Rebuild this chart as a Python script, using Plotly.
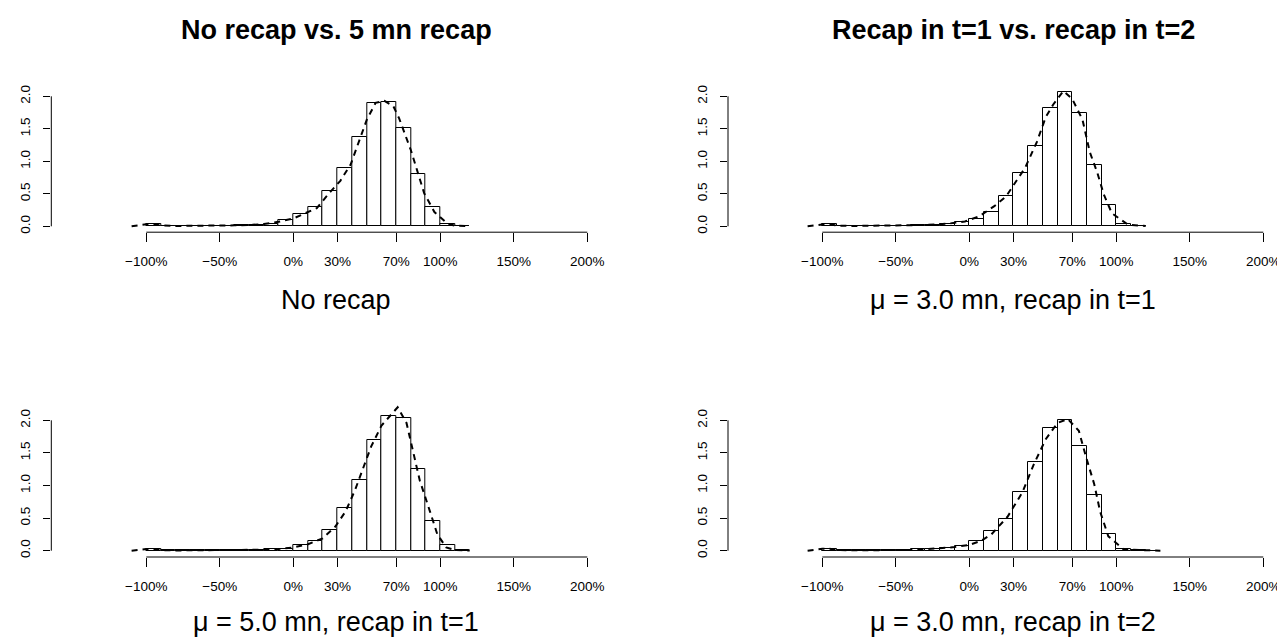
import plotly.graph_objects as go

W, H = 1285, 637

# ---------------- data ----------------
bin_left = [-1.0, -0.9, -0.8, -0.7, -0.6, -0.5, -0.4, -0.3, -0.2, -0.1, 0.0,
            0.1, 0.2, 0.3, 0.4, 0.5, 0.6, 0.7, 0.8, 0.9, 1.0, 1.1]
bin_left_long = [-1.0, -0.9, -0.8, -0.7, -0.6, -0.5, -0.4, -0.3, -0.2, -0.1, 0.0,
                 0.1, 0.2, 0.3, 0.4, 0.5, 0.6, 0.7, 0.8, 0.9, 1.0, 1.1, 1.2]
bin_width = 0.1

hist_no_recap = [0.04, 0.005, 0.005, 0.007, 0.01, 0.01, 0.015, 0.025, 0.04, 0.09, 0.19,
                 0.29, 0.54, 0.90, 1.38, 1.89, 1.91, 1.52, 0.80, 0.29, 0.035, 0.005]
hist_mu3_t1 = [0.03, 0.005, 0.005, 0.007, 0.01, 0.012, 0.015, 0.015, 0.03, 0.06, 0.12,
               0.225, 0.46, 0.815, 1.23, 1.82, 2.06, 1.75, 0.95, 0.33, 0.04, 0.005]
hist_mu5_t1 = [0.025, 0.005, 0.005, 0.005, 0.005, 0.005, 0.008, 0.01, 0.02, 0.03, 0.09,
               0.145, 0.32, 0.65, 1.08, 1.70, 2.07, 2.035, 1.25, 0.45, 0.09, 0.005]
hist_mu3_t2 = [0.03, 0.005, 0.005, 0.005, 0.005, 0.01, 0.02, 0.025, 0.04, 0.067, 0.145,
               0.30, 0.48, 0.90, 1.36, 1.88, 2.00, 1.60, 0.85, 0.26, 0.03, 0.005, 0.003]

dens_no_recap_x = [-1.10, -1.05, -1.00, -0.95, -0.90, -0.80, -0.70, -0.60, -0.50, -0.40, -0.30,
                   -0.20, -0.10, 0.00, 0.06, 0.16, 0.24, 0.32, 0.39, 0.445, 0.50, 0.56, 0.62,
                   0.68, 0.72, 0.80, 0.84, 0.89, 0.96, 1.05, 1.10, 1.20]
dens_no_recap_y = [0.00, 0.015, 0.03, 0.03, 0.015, 0.005, 0.005, 0.008, 0.01, 0.015, 0.02,
                   0.035, 0.07, 0.12, 0.18, 0.28, 0.50, 0.70, 0.95, 1.28, 1.64, 1.90, 1.93,
                   1.85, 1.66, 1.17, 0.87, 0.51, 0.22, 0.04, 0.01, 0.0]

dens_mu3_t1_x = [-1.10, -1.05, -1.00, -0.95, -0.90, -0.80, -0.60, -0.40, -0.30, -0.145, -0.03,
                 0.065, 0.17, 0.25, 0.38, 0.46, 0.52, 0.57, 0.64, 0.70, 0.77, 0.82, 0.87,
                 0.915, 0.97, 1.08, 1.20]
dens_mu3_t1_y = [0.0, 0.015, 0.028, 0.028, 0.012, 0.005, 0.007, 0.012, 0.02, 0.04, 0.075,
                 0.15, 0.31, 0.46, 0.90, 1.30, 1.68, 1.87, 2.08, 1.96, 1.64, 1.14, 0.83,
                 0.49, 0.20, 0.025, 0.005]

dens_mu5_t1_x = [-1.10, -1.05, -1.00, -0.95, -0.90, -0.80, -0.60, -0.40, -0.20, -0.10, 0.00,
                 0.10, 0.20, 0.286, 0.355, 0.42, 0.47, 0.53, 0.60, 0.69, 0.71, 0.77, 0.81,
                 0.86, 0.93, 0.98, 1.04, 1.10, 1.20]
dens_mu5_t1_y = [0.0, 0.012, 0.025, 0.025, 0.01, 0.004, 0.004, 0.006, 0.015, 0.025, 0.05,
                 0.10, 0.19, 0.37, 0.60, 0.93, 1.25, 1.60, 1.92, 2.15, 2.20, 1.96, 1.55,
                 1.08, 0.60, 0.25, 0.05, 0.01, 0.003]

dens_mu3_t2_x = [-1.10, -1.05, -1.00, -0.95, -0.90, -0.80, -0.60, -0.40, -0.30, -0.20, -0.10,
                 0.00, 0.08, 0.15, 0.26, 0.36, 0.44, 0.52, 0.60, 0.67, 0.745, 0.795, 0.85,
                 0.89, 0.946, 1.05, 1.20, 1.30]
dens_mu3_t2_y = [0.0, 0.015, 0.03, 0.03, 0.012, 0.005, 0.005, 0.012, 0.022, 0.035, 0.055,
                 0.09, 0.15, 0.25, 0.52, 0.89, 1.33, 1.71, 1.96, 2.02, 1.84, 1.43, 1.02,
                 0.60, 0.22, 0.02, 0.003, 0.0]

x_tick_vals = [-1.0, -0.5, 0.0, 0.3, 0.7, 1.0, 1.5, 2.0]
x_tick_text = ["\u2212100%", "\u221250%", "0%", "30%", "70%", "100%", "150%", "200%"]
y_tick_vals = [0.0, 0.5, 1.0, 1.5, 2.0]
y_tick_text = ["0.0", "0.5", "1.0", "1.5", "2.0"]

titles = ["No recap vs. 5 mn recap", "Recap in t=1 vs. recap in t=2"]
subtitles = ["No recap", "\u03bc = 3.0 mn, recap in t=1",
             "\u03bc = 5.0 mn, recap in t=1", "\u03bc = 3.0 mn, recap in t=2"]

# ---------------- layout geometry (pixels) ----------------
panels = [
    dict(L=43.3, R=613, T=63, B=224.2, xa=138.3, xb=579.3, y0=218.3, y2=88.3,
         bins=bin_left, hist=hist_no_recap, dx=dens_no_recap_x, dy=dens_no_recap_y),
    dict(L=720, R=1285, T=63, B=224.2, xa=814.3, xb=1255.3, y0=218.3, y2=88.3,
         bins=bin_left, hist=hist_mu3_t1, dx=dens_mu3_t1_x, dy=dens_mu3_t1_y),
    dict(L=43.3, R=613, T=387, B=549, xa=138.3, xb=579.3, y0=542.7, y2=412.3,
         bins=bin_left, hist=hist_mu5_t1, dx=dens_mu5_t1_x, dy=dens_mu5_t1_y),
    dict(L=720, R=1285, T=387, B=549, xa=814.3, xb=1255.3, y0=542.7, y2=412.3,
         bins=bin_left_long, hist=hist_mu3_t2, dx=dens_mu3_t2_x, dy=dens_mu3_t2_y),
]
title_pos = [(328, 22), (1005, 22)]
sub_pos = [(328, 292), (1005, 292), (328, 613.5), (1005, 613.5)]

FONT = "Liberation Sans, Arial, Helvetica, sans-serif"
fig = go.Figure()
shapes = []
layout_axes = {}

for i, p in enumerate(panels, start=1):
    xs = f"x{i}" if i > 1 else "x"
    ys = f"y{i}" if i > 1 else "y"
    xmin_t, xmax_t = min(x_tick_vals), max(x_tick_vals)
    ymin_t, ymax_t = min(y_tick_vals), max(y_tick_vals)
    sx = (p["xb"] - p["xa"]) / (xmax_t - xmin_t)
    sy = (p["y0"] - p["y2"]) / (ymax_t - ymin_t)
    xr = [xmin_t + (p["L"] - p["xa"]) / sx, xmin_t + (p["R"] - p["xa"]) / sx]
    yr = [(p["y0"] - p["B"]) / sy, (p["y0"] - p["T"]) / sy]

    fig.add_trace(go.Bar(
        x=p["bins"], y=p["hist"], width=bin_width, offset=0,
        marker=dict(color="white", line=dict(color="black", width=1)),
        xaxis=xs, yaxis=ys, hoverinfo="skip", showlegend=False))
    fig.add_trace(go.Scatter(
        x=p["dx"], y=p["dy"], mode="lines",
        line=dict(color="black", width=2, dash="6px,5px"),
        xaxis=xs, yaxis=ys, hoverinfo="skip", showlegend=False))

    xkey = "xaxis" if i == 1 else f"xaxis{i}"
    ykey = "yaxis" if i == 1 else f"yaxis{i}"
    layout_axes[xkey] = dict(
        domain=[p["L"] / W, p["R"] / W], range=xr, anchor=ys,
        tickmode="array", tickvals=x_tick_vals, ticktext=x_tick_text,
        ticks="outside", ticklen=8.5, tickwidth=1, tickcolor="black",
        ticklabelstandoff=8,
        showline=False, showgrid=False, zeroline=False,
        tickfont=dict(family=FONT, size=13.5, color="black"), fixedrange=True)
    layout_axes[ykey] = dict(
        domain=[1 - p["B"] / H, 1 - p["T"] / H], range=yr, anchor=xs,
        tickmode="array", tickvals=y_tick_vals, ticktext=y_tick_text,
        ticks="outside", ticklen=7.5, tickwidth=1, tickcolor="black", tickangle=-90,
        ticklabelstandoff=7,
        showline=False, showgrid=False, zeroline=False,
        tickfont=dict(family=FONT, size=13.5, color="black"), fixedrange=True)

    shapes.append(dict(type="line", xref=xs, yref="paper",
                       x0=xmin_t, x1=xmax_t, y0=1 - p["B"] / H, y1=1 - p["B"] / H,
                       line=dict(color="black", width=1)))
    shapes.append(dict(type="line", xref="paper", yref=ys,
                       x0=p["L"] / W, x1=p["L"] / W, y0=ymin_t, y1=ymax_t,
                       line=dict(color="black", width=1)))

annotations = []
for t, (px, py) in zip(titles, title_pos):
    annotations.append(dict(text=f"<b>{t}</b>", x=px / W, y=1 - py / H, xref="paper", yref="paper",
                            xanchor="center", yanchor="middle", showarrow=False,
                            font=dict(family=FONT, size=27, color="black")))
for t, (px, py) in zip(subtitles, sub_pos):
    annotations.append(dict(text=t, x=px / W, y=1 - py / H, xref="paper", yref="paper",
                            xanchor="center", yanchor="middle", showarrow=False,
                            font=dict(family=FONT, size=27, color="black")))

fig.update_layout(
    width=W, height=H, margin=dict(l=0, r=0, t=0, b=0),
    paper_bgcolor="white", plot_bgcolor="white",
    shapes=shapes, annotations=annotations, showlegend=False,
    bargap=0, **layout_axes)

fig.write_html("out.html", config={"displayModeBar": False})
